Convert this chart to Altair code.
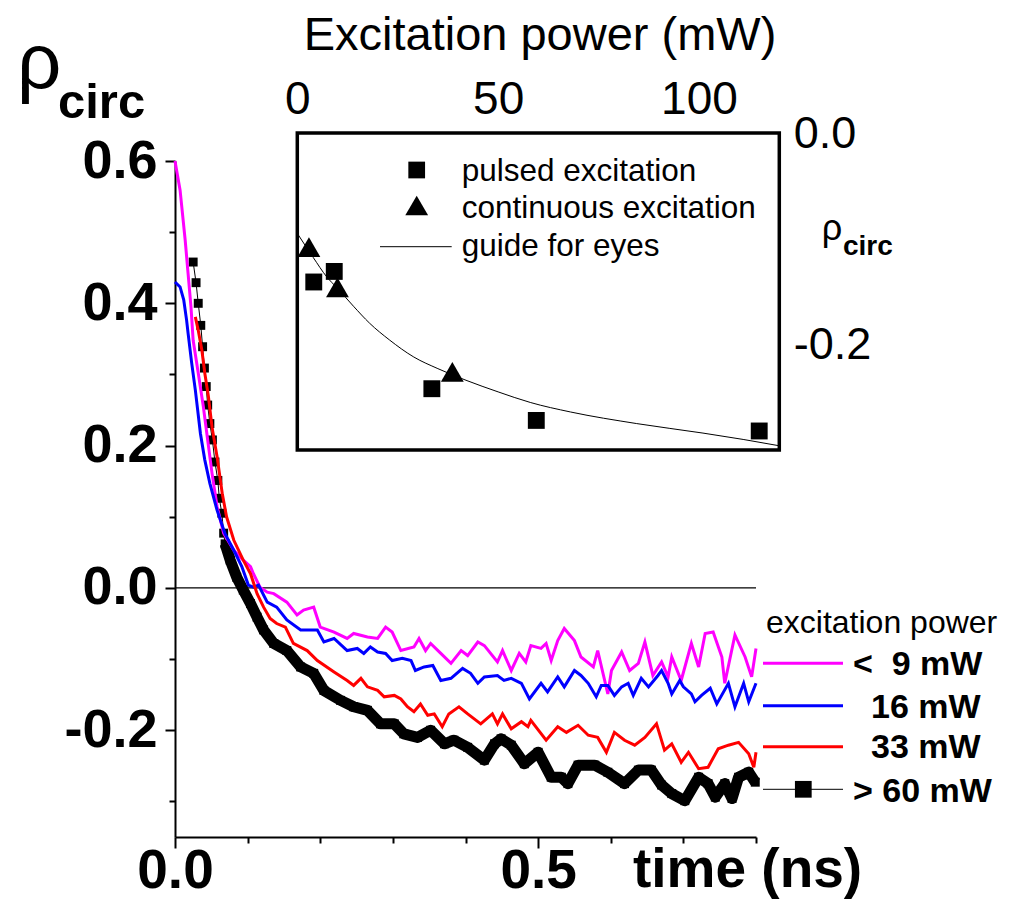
import altair as alt
import pandas as pd

# ---------------- main panel: rho_circ vs time (ns) ----------------
t_9 = [0.000, 0.007, 0.014, 0.018, 0.022, 0.025, 0.032, 0.039, 0.045, 0.051, 0.058, 0.067, 0.081, 0.094, 0.104, 0.108,
       0.117, 0.127, 0.136, 0.154, 0.168, 0.177, 0.191, 0.200, 0.219, 0.237, 0.246, 0.265, 0.279, 0.290, 0.299, 0.311,
       0.329, 0.336, 0.345, 0.352, 0.366, 0.380, 0.394, 0.403, 0.417, 0.426, 0.444, 0.451, 0.463, 0.474, 0.483, 0.490,
       0.504, 0.511, 0.518, 0.527, 0.536, 0.550, 0.559, 0.576, 0.582, 0.596, 0.601, 0.615, 0.626, 0.638, 0.647, 0.658,
       0.670, 0.679, 0.684, 0.697, 0.711, 0.721, 0.730, 0.741, 0.753, 0.757, 0.771, 0.785, 0.794, 0.800]
r_9 = [0.600, 0.559, 0.489, 0.442, 0.395, 0.348, 0.302, 0.255, 0.208, 0.161, 0.114, 0.077, 0.053, 0.039, 0.030, 0.020,
       0.001, -0.006, -0.008, -0.020, -0.038, -0.031, -0.027, -0.055, -0.062, -0.071, -0.064, -0.069, -0.071, -0.055,
       -0.062, -0.088, -0.083, -0.071, -0.088, -0.078, -0.092, -0.106, -0.088, -0.095, -0.076, -0.081, -0.104, -0.088,
       -0.116, -0.092, -0.104, -0.081, -0.085, -0.078, -0.102, -0.074, -0.057, -0.074, -0.097, -0.111, -0.088, -0.149,
       -0.116, -0.090, -0.116, -0.106, -0.076, -0.123, -0.104, -0.125, -0.097, -0.130, -0.078, -0.111, -0.064, -0.062,
       -0.097, -0.134, -0.066, -0.097, -0.125, -0.085]

t_16 = [0.000, 0.007, 0.012, 0.016, 0.018, 0.023, 0.028, 0.035, 0.041, 0.048, 0.058, 0.069, 0.081, 0.092, 0.101, 0.108,
        0.115, 0.127, 0.140, 0.154, 0.173, 0.196, 0.205, 0.219, 0.237, 0.251, 0.260, 0.269, 0.279, 0.290, 0.299, 0.313,
        0.325, 0.331, 0.343, 0.355, 0.366, 0.380, 0.396, 0.407, 0.417, 0.426, 0.444, 0.453, 0.463, 0.477, 0.488, 0.504,
        0.513, 0.527, 0.536, 0.550, 0.559, 0.569, 0.580, 0.587, 0.596, 0.605, 0.615, 0.624, 0.631, 0.642, 0.652, 0.665,
        0.670, 0.679, 0.684, 0.695, 0.700, 0.711, 0.716, 0.725, 0.737, 0.746, 0.762, 0.771, 0.783, 0.790, 0.800]
r_16 = [0.430, 0.423, 0.405, 0.376, 0.358, 0.316, 0.278, 0.217, 0.180, 0.147, 0.109, 0.076, 0.053, 0.030, 0.004, 0.001,
        0.004, -0.020, -0.027, -0.045, -0.059, -0.059, -0.076, -0.071, -0.088, -0.085, -0.092, -0.083, -0.090, -0.092,
        -0.102, -0.099, -0.102, -0.116, -0.111, -0.109, -0.130, -0.127, -0.113, -0.120, -0.134, -0.125, -0.123, -0.130,
        -0.127, -0.134, -0.156, -0.134, -0.146, -0.125, -0.139, -0.116, -0.123, -0.134, -0.153, -0.137, -0.137, -0.151,
        -0.139, -0.134, -0.151, -0.127, -0.139, -0.123, -0.116, -0.134, -0.149, -0.130, -0.139, -0.149, -0.160, -0.151,
        -0.141, -0.163, -0.134, -0.167, -0.134, -0.160, -0.134]

t_33 = [0.028, 0.032, 0.037, 0.041, 0.046, 0.051, 0.058, 0.065, 0.071, 0.081, 0.094, 0.104, 0.113, 0.122, 0.131, 0.140,
        0.152, 0.163, 0.182, 0.196, 0.219, 0.237, 0.246, 0.256, 0.265, 0.279, 0.288, 0.302, 0.311, 0.320, 0.329, 0.338,
        0.348, 0.357, 0.368, 0.377, 0.391, 0.403, 0.421, 0.437, 0.444, 0.451, 0.463, 0.477, 0.486, 0.490, 0.511, 0.527,
        0.539, 0.555, 0.569, 0.582, 0.594, 0.605, 0.619, 0.633, 0.647, 0.663, 0.674, 0.684, 0.697, 0.707, 0.721, 0.734,
        0.748, 0.762, 0.776, 0.790, 0.797, 0.800]
r_33 = [0.381, 0.362, 0.334, 0.302, 0.269, 0.226, 0.184, 0.133, 0.100, 0.067, 0.039, 0.020, -0.008, -0.027, -0.043,
        -0.050, -0.055, -0.078, -0.088, -0.102, -0.118, -0.130, -0.137, -0.127, -0.139, -0.144, -0.153, -0.151, -0.156,
        -0.167, -0.174, -0.163, -0.179, -0.177, -0.195, -0.177, -0.167, -0.177, -0.191, -0.177, -0.191, -0.177, -0.198,
        -0.188, -0.195, -0.186, -0.214, -0.195, -0.203, -0.193, -0.207, -0.210, -0.231, -0.203, -0.214, -0.221, -0.210,
        -0.191, -0.228, -0.219, -0.245, -0.231, -0.254, -0.252, -0.226, -0.221, -0.217, -0.233, -0.252, -0.231]

t_60 = [0.025, 0.029, 0.032, 0.0355, 0.038, 0.0405, 0.043, 0.045, 0.048, 0.0515, 0.055, 0.059, 0.061, 0.0645, 0.067,
        0.069, 0.076, 0.085, 0.094, 0.104, 0.113, 0.122, 0.136, 0.154, 0.173, 0.191, 0.205, 0.228, 0.246, 0.265, 0.283,
        0.302, 0.315, 0.334, 0.352, 0.371, 0.384, 0.403, 0.426, 0.440, 0.449, 0.463, 0.481, 0.500, 0.518, 0.532, 0.541,
        0.555, 0.578, 0.596, 0.619, 0.638, 0.656, 0.670, 0.684, 0.702, 0.721, 0.734, 0.744, 0.757, 0.767, 0.776, 0.790,
        0.799]
r_60 = [0.458, 0.429, 0.400, 0.369, 0.339, 0.309, 0.283, 0.257, 0.231, 0.208, 0.177, 0.151, 0.126, 0.105, 0.077, 0.062,
        0.039, 0.015, -0.003, -0.022, -0.041, -0.059, -0.078, -0.088, -0.111, -0.120, -0.144, -0.158, -0.167, -0.172,
        -0.191, -0.191, -0.205, -0.210, -0.200, -0.219, -0.214, -0.224, -0.242, -0.219, -0.212, -0.221, -0.247, -0.231,
        -0.266, -0.266, -0.275, -0.249, -0.249, -0.259, -0.275, -0.256, -0.256, -0.277, -0.289, -0.299, -0.266, -0.275,
        -0.294, -0.275, -0.296, -0.266, -0.259, -0.273]

x_ticks = [0.0, 0.1, 0.2, 0.3, 0.4, 0.5, 0.6, 0.7, 0.8]
y_ticks = [-0.3, -0.2, -0.1, 0.0, 0.1, 0.2, 0.3, 0.4, 0.5, 0.6]

# ---------------- inset: rho_circ vs excitation power (mW) ----------------
p_pulsed = [4.1, 9.2, 33.5, 59.5, 115.0]
r_pulsed = [-0.141, -0.131, -0.242, -0.272, -0.282]
p_cont = [2.9, 10.0, 38.6]
r_cont = [-0.108, -0.146, -0.226]
p_guide = [0, 4, 7.3, 10, 14, 18, 23, 29, 35, 42, 50, 58, 68, 84.5, 101, 111, 120]
r_guide = [-0.095, -0.118, -0.136, -0.147, -0.164, -0.180, -0.196, -0.212, -0.223, -0.234, -0.245, -0.255, -0.264,
           -0.275, -0.284, -0.290, -0.296]
inset_top_ticks = [10, 20, 30, 40, 50, 60, 70, 80, 90, 100, 110]
inset_top_labels = [0, 50, 100]
inset_right_ticks = [-0.2, -0.1]
inset_right_labels = [0.0, -0.2]

series_names = ["<\u00a0\u00a09 mW", "16 mW", "33 mW", ">\u00a060 mW"]
series_colors = ["#FF00FF", "#0000FF", "#FF0000", "#000000"]

FONT = "Liberation Sans"
W, H = 581, 676

# ---------- main panel ----------
xs = alt.Scale(domain=[0, 0.8], nice=False, zero=False)
ys = alt.Scale(domain=[-0.35, 0.6], nice=False, zero=False)

x_axis = alt.Axis(
    orient="bottom", values=x_ticks, title=None, grid=False,
    labelExpr="abs(datum.value) < 0.001 ? '0.0' : (abs(datum.value - 0.5) < 0.001 ? '0.5' : '')",
    tickSize={"condition": {"test": "abs(datum.value) < 0.001 || abs(datum.value - 0.5) < 0.001", "value": 11}, "value": 6},
    tickWidth=2, tickColor="black", domainWidth=2, domainColor="black",
    labelFont=FONT, labelFontSize=55, labelFontWeight="bold", labelColor="black",
    labelBaseline="alphabetic", labelPadding=39, labelFlush=False, labelOverlap=False,
)
y_axis = alt.Axis(
    orient="left", values=y_ticks, title=None, grid=False,
    labelExpr="abs(round(datum.value*10)) % 2 == 0 ? ((datum.value < -0.001 ? '-' : '') + format(abs(datum.value), '.1f')) : ''",
    tickSize={"condition": {"test": "abs(round(datum.value*10)) % 2 == 0", "value": 10}, "value": 6},
    tickWidth=2, tickColor="black", domainWidth=2, domainColor="black",
    labelFont=FONT, labelFontSize=54, labelFontWeight="bold", labelColor="black",
    labelBaseline="middle", labelPadding=8, labelFlush=False, labelOverlap=False,
)
X = alt.X("t:Q", scale=xs, axis=x_axis)
Y = alt.Y("rho:Q", scale=ys, axis=y_axis)


def sdf(t, r):
    return pd.DataFrame({"t": t, "rho": r})


zero_line = alt.Chart(pd.DataFrame({"rho": [0.0]})).mark_rule(color="black", strokeWidth=1.2).encode(y=Y)
blk = sdf(t_60, r_60)
blk_thin = alt.Chart(blk).mark_line(color="black", strokeWidth=1).encode(x=X, y=Y)
blk_thick = alt.Chart(blk).transform_filter("datum.t >= 0.068").mark_line(
    color="black", strokeWidth=11, strokeJoin="round").encode(x=X, y=Y)
blk_sq = alt.Chart(blk).mark_point(shape="square", filled=True, size=80, color="black", opacity=1).encode(x=X, y=Y)
mag = alt.Chart(sdf(t_9, r_9)).mark_line(color=series_colors[0], strokeWidth=3).encode(x=X, y=Y)
blu = alt.Chart(sdf(t_16, r_16)).mark_line(color=series_colors[1], strokeWidth=3).encode(x=X, y=Y)
red = alt.Chart(sdf(t_33, r_33)).mark_line(color=series_colors[2], strokeWidth=3).encode(x=X, y=Y)

main = alt.layer(zero_line, blk_thin, blk_thick, blk_sq, mag, blu, red)

# ---------- inset ----------
ixs = alt.Scale(domain=[0, 120], range=[122.3, 604.3], nice=False, zero=False)
iys = alt.Scale(domain=[-0.3, 0.0], range=[289, -28], nice=False, zero=False)

ix_axis_A = alt.Axis(orient="top", offset=28, values=inset_top_labels, ticks=False, domain=False, grid=False,
                     title=None, labelFont=FONT, labelFontSize=46, labelColor="black", labelBaseline="alphabetic",
                     labelPadding=20, labelFlush=False, labelOverlap=False)
iy_axis_A = alt.Axis(orient="right", offset=23.3, values=inset_right_labels, ticks=False, domain=False, grid=False,
                     title=None, labelFont=FONT, labelFontSize=45, labelColor="black", labelBaseline="middle",
                     labelAlign="left", labelPadding=14, labelFlush=False, labelOverlap=False,
                     labelExpr="(datum.value < -0.001 ? '-' : '') + format(abs(datum.value), '.1f')")
ix_axis_B = alt.Axis(orient="bottom", offset=-704, values=inset_top_ticks, labels=False, domain=False, grid=False,
                     title=None, tickColor="black", tickWidth=2.5,
                     tickSize={"condition": {"test": "datum.value == 50 || datum.value == 100", "value": 13}, "value": 8})
iy_axis_B = alt.Axis(orient="left", offset=-604.3, values=inset_right_ticks, labels=False, domain=False, grid=False,
                     title=None, tickColor="black", tickWidth=2.5,
                     tickSize={"condition": {"test": "abs(datum.value + 0.2) < 0.001", "value": 13}, "value": 7})

IXA = lambda f: alt.X(f, scale=ixs, axis=ix_axis_A)
IYA = lambda f: alt.Y(f, scale=iys, axis=iy_axis_A)

frame_df = pd.DataFrame({"P": [min(p_guide)], "P2": [max(p_guide)], "r": [-0.3], "r2": [0.0]})
frame = alt.Chart(frame_df).mark_rect(fill="white", stroke="black", strokeWidth=3.5).encode(
    x=IXA("P:Q"), x2="P2:Q", y=IYA("r:Q"), y2="r2:Q")
guide = alt.Chart(pd.DataFrame({"P": p_guide, "r": r_guide})).mark_line(
    color="black", strokeWidth=1, interpolate="monotone").encode(x=IXA("P:Q"), y=IYA("r:Q"))
pulsed = alt.Chart(pd.DataFrame({"P": p_pulsed, "r": r_pulsed})).mark_point(
    shape="square", filled=True, size=285, color="black", opacity=1).encode(x=IXA("P:Q"), y=IYA("r:Q"))
cont = alt.Chart(pd.DataFrame({"P": p_cont, "r": r_cont})).mark_point(
    shape="triangle-up", filled=True, size=520, color="black", opacity=1).encode(x=IXA("P:Q"), y=IYA("r:Q"))
inset_A = alt.layer(frame, guide, pulsed, cont)
inset_B = alt.Chart(pd.DataFrame({"P": p_pulsed, "r": r_pulsed})).mark_point(opacity=0).encode(
    x=alt.X("P:Q", scale=ixs, axis=ix_axis_B), y=alt.Y("r:Q", scale=iys, axis=iy_axis_B))
inset = alt.layer(inset_A, inset_B).resolve_axis(x="independent", y="independent")

# ---------- annotations (text, legends) ----------
one = pd.DataFrame({"a": [0]})


def txt(s, x, y, size, weight="normal", align="left", baseline="alphabetic"):
    return alt.Chart(one).mark_text(text=s, font=FONT, fontSize=size, fontWeight=weight, align=align,
                                    baseline=baseline, color="black").encode(x=alt.value(x), y=alt.value(y))


ann = [
    txt("ρ", -158, -73, 78),
    txt("circ", -117, -43, 49, "bold"),
    txt("Excitation power (mW)", 365, -111, 47, align="center"),
    txt("ρ", 646.7, 79, 36),
    txt("circ", 668, 94, 28, "bold"),
    txt("time (ns)", 458, 726, 55, "bold"),
    txt("pulsed excitation", 286.7, 20, 31.5),
    txt("continuous excitation", 286.7, 57, 31.5),
    txt("guide for eyes", 286.7, 95, 31.5),
    txt("excitation power", 591, 472, 32),
]
leg_y = [502.3, 544.7, 585.7, 628.3]
leg_base = [514, 557, 597, 641]
leg_x = [678, 696, 696, 678]
for i in range(4):
    ann.append(alt.Chart(one).mark_rule(color=series_colors[i], strokeWidth=3 if i < 3 else 1).encode(
        x=alt.value(588), x2=alt.value(668), y=alt.value(leg_y[i])))
    ann.append(txt(series_names[i], leg_x[i], leg_base[i], 34, "bold"))
ann.append(alt.Chart(one).mark_point(shape="square", filled=True, size=280, color="black", opacity=1).encode(
    x=alt.value(628.3), y=alt.value(leg_y[3])))
# inset legend symbols
ann.append(alt.Chart(one).mark_point(shape="square", filled=True, size=280, color="black", opacity=1).encode(
    x=alt.value(241.7), y=alt.value(9)))
ann.append(alt.Chart(one).mark_point(shape="triangle-up", filled=True, size=520, color="black", opacity=1).encode(
    x=alt.value(241.7), y=alt.value(44.5)))
ann.append(alt.Chart(one).mark_rule(color="black", strokeWidth=1).encode(
    x=alt.value(205), x2=alt.value(276.7), y=alt.value(85.7)))

chart = alt.layer(main, inset, *ann).resolve_scale(x="independent", y="independent").properties(
    width=W, height=H,
    autosize=alt.AutoSizeParams(type="none"),
    padding={"left": 167, "top": 153, "right": 250, "bottom": 63},
    background="white",
).configure_view(stroke=None)

chart.save("out.html", embed_options={"renderer": "svg", "actions": False})
